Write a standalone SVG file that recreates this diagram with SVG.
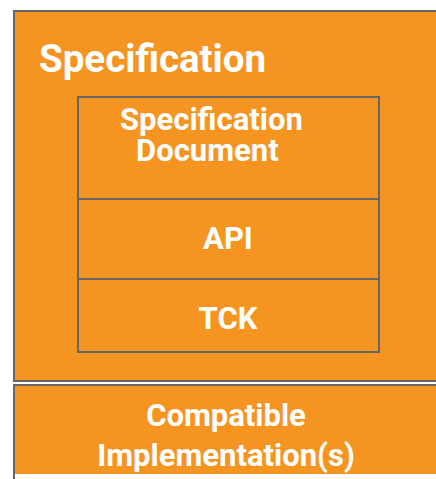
<svg xmlns="http://www.w3.org/2000/svg" width="436" height="479" viewBox="0 0 436 479">
  <style>
    .box { fill: #f69421; stroke: #666666; stroke-width: 2; }
    .lbl { fill: #ffffff; font-family: Roboto, "Liberation Sans", sans-serif; font-weight: bold; }
    .mid { text-anchor: middle; }
  </style>
  <rect width="436" height="479" fill="#ffffff"/>

  <g id="specification">
    <rect class="box" x="14" y="11" width="430" height="370"/>
    <text class="lbl" x="39" y="72" font-size="38.5">Specification</text>
  </g>

  <g id="spec-document">
    <rect class="box" x="78" y="97" width="301" height="102"/>
    <text class="lbl" x="120" y="130" font-size="31">Specification</text>
    <text class="lbl" x="136" y="161" font-size="31">Document</text>
  </g>

  <g id="api">
    <rect class="box" x="78" y="199" width="301" height="80"/>
    <text class="lbl mid" x="228" y="249" font-size="31">API</text>
  </g>

  <g id="tck">
    <rect class="box" x="78" y="279" width="301" height="73"/>
    <text class="lbl mid" x="228" y="329" font-size="31">TCK</text>
  </g>

  <g id="compatible-implementations">
    <rect class="box" x="14" y="385" width="430" height="100"/>
    <rect x="15" y="474" width="421" height="5" fill="#ffffff"/>
    <text class="lbl mid" x="226" y="426" font-size="31">Compatible</text>
    <text class="lbl mid" x="226" y="466" font-size="31">Implementation(s)</text>
  </g>

  <g id="connectors"/>
</svg>
